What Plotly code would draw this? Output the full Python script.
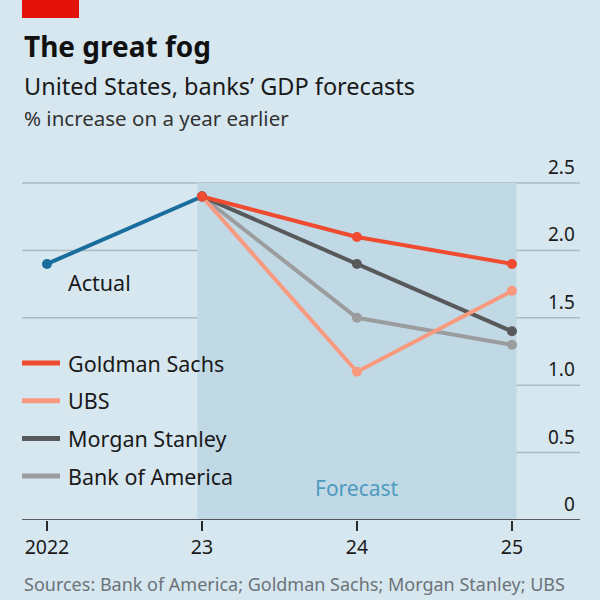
import plotly.graph_objects as go

years = [2022, 2023, 2024, 2025]
year_labels = ["2022", "23", "24", "25"]
actual_x = [2022, 2023]
actual_y = [1.9, 2.4]
forecast_x = [2023, 2024, 2025]
goldman = [2.4, 2.1, 1.9]
ubs = [2.4, 1.1, 1.7]
morgan = [2.4, 1.9, 1.4]
bofa = [2.4, 1.5, 1.3]
y_ticks = [0, 0.5, 1.0, 1.5, 2.0, 2.5]
y_tick_labels = ["0", "0.5", "1.0", "1.5", "2.0", "2.5"]

BG = "#d7e7f0"
SHADE = "#c1d9e5"
GRID = "#a9bcc6"
FONT = "Noto Sans"

series = [
    ("Bank of America", bofa, "#9b9c9e"),
    ("Morgan Stanley", morgan, "#58595b"),
    ("UBS", ubs, "#f89a7f"),
    ("Goldman Sachs", goldman, "#ef4b30"),
]

fig = go.Figure()
for name, vals, col in series:
    fig.add_trace(go.Scatter(x=forecast_x, y=vals, mode="lines+markers", name=name,
                             line=dict(color=col, width=4), marker=dict(color=col, size=10),
                             showlegend=False, cliponaxis=False))
fig.add_trace(go.Scatter(x=actual_x, y=actual_y, mode="lines+markers", name="Actual",
                         line=dict(color="#1a6e9e", width=4), marker=dict(color="#1a6e9e", size=10),
                         showlegend=False, cliponaxis=False))
fig.add_trace(go.Scatter(x=[forecast_x[0]], y=[goldman[0]], mode="markers",
                         marker=dict(color="#ef4b30", size=10), showlegend=False, cliponaxis=False))

def py(pix):
    return (520 - pix) / 360

shapes = []
shapes.append(dict(type="rect", xref="x", yref="y", x0=2022.97, x1=2025.03, y0=0, y1=2.5,
                   fillcolor=SHADE, line=dict(width=0), layer="below"))
for v in y_ticks[1:]:
    x0 = 0 if v >= 1.5 else 0.41
    shapes.append(dict(type="line", xref="paper", yref="y", x0=x0, x1=1, y0=v, y1=v,
                       line=dict(color=GRID, width=1.5), layer="below"))
shapes.append(dict(type="line", xref="paper", yref="y", x0=0, x1=1, y0=0, y1=0,
                   line=dict(color="#2b2b2b", width=1.6)))
shapes.append(dict(type="rect", xref="paper", yref="paper", x0=0, x1=57 / 558, y0=py(18), y1=py(-2),
                   fillcolor="#e3120b", line=dict(width=0)))

annotations = []
for v, lab in zip(y_ticks, y_tick_labels):
    annotations.append(dict(x=0.995, xref="paper", y=v, yref="y", text=lab, showarrow=False,
                            xanchor="right", yanchor="bottom", yshift=1,
                            font=dict(family=FONT, size=19, color="#1a1a1a")))
legend_order = ["Goldman Sachs", "UBS", "Morgan Stanley", "Bank of America"]
cols = {n: c for n, _, c in series}
for i, name in enumerate(legend_order):
    yp = py(363 + i * 37.7)
    shapes.append(dict(type="line", xref="paper", yref="paper", x0=0, x1=38 / 558, y0=yp, y1=yp,
                       line=dict(color=cols[name], width=5)))
    annotations.append(dict(x=44 / 558, xref="paper", y=yp, yref="paper", text=name, showarrow=False,
                            xanchor="left", yanchor="middle",
                            font=dict(family=FONT, size=21.5, color="#1a1a1a")))
annotations.append(dict(x=44 / 558, xref="paper", y=py(282), yref="paper", text="Actual",
                        showarrow=False, xanchor="left", yanchor="middle",
                        font=dict(family=FONT, size=21.5, color="#1a1a1a")))
annotations.append(dict(x=2024, xref="x", y=py(488), yref="paper", text="Forecast",
                        showarrow=False, xanchor="center", yanchor="middle",
                        font=dict(family=FONT, size=21, color="#4f9ac0")))
annotations.append(dict(x=0, xref="paper", y=py(46), yref="paper", text="<b>The great fog</b>",
                        showarrow=False, xanchor="left", yanchor="middle",
                        font=dict(family=FONT, size=28, color="#111111")))
annotations.append(dict(x=0, xref="paper", y=py(86), yref="paper",
                        text="United States, banks’ GDP forecasts",
                        showarrow=False, xanchor="left", yanchor="middle",
                        font=dict(family=FONT, size=23.5, color="#1a1a1a")))
annotations.append(dict(x=0, xref="paper", y=py(118), yref="paper",
                        text="% increase on a year earlier",
                        showarrow=False, xanchor="left", yanchor="middle",
                        font=dict(family=FONT, size=20.5, color="#333333")))
annotations.append(dict(x=0, xref="paper", y=py(584), yref="paper",
                        text="Sources: Bank of America; Goldman Sachs; Morgan Stanley; UBS",
                        showarrow=False, xanchor="left", yanchor="middle",
                        font=dict(family=FONT, size=18, color="#6b7378")))

fig.update_layout(
    width=600, height=600, autosize=False,
    margin=dict(l=22, r=20, t=160, b=80),
    paper_bgcolor=BG, plot_bgcolor=BG,
    shapes=shapes, annotations=annotations,
    xaxis=dict(range=[2021.839, 2025.439], tickvals=years, ticktext=year_labels,
               showgrid=False, zeroline=False, ticks="outside", ticklen=10, tickwidth=1.6,
               tickcolor="#2b2b2b", showline=False,
               tickfont=dict(family=FONT, size=19.5, color="#1a1a1a")),
    yaxis=dict(range=[0, 2.671], showgrid=False, zeroline=False, showticklabels=False,
               showline=False),
)

fig.write_html("out.html")
